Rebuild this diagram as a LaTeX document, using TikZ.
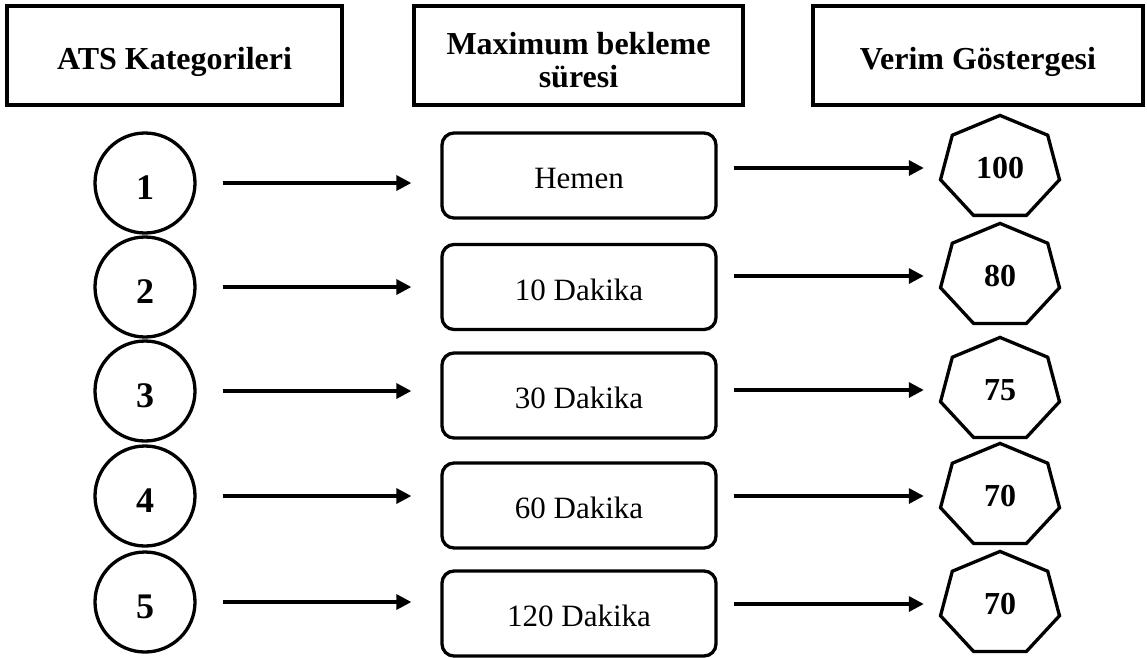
\documentclass[tikz,border=0pt]{standalone}
\usepackage{fontspec}
\setmainfont{Liberation Serif}
\usetikzlibrary{arrows.meta}
\newcommand{\drawhept}[1]{\draw[hept, shift={(#1.center)}, xscale=1.16] (-90:52.6) -- (-141.43:52.6) -- (-192.86:52.6) -- (-244.29:52.6) -- (-295.71:52.6) -- (-347.14:52.6) -- (-38.57:52.6) -- cycle;}
\begin{document}
\begin{tikzpicture}[x=1pt,y=-1pt,
 hdr/.style={draw, line width=3.3pt, minimum height=99pt, font=\fontsize{32}{33}\selectfont\bfseries, align=center, inner sep=0pt},
 onel/.style={text height=27pt, text depth=0pt},
 cat/.style={circle, draw, line width=3.3pt, minimum size=100pt, inner sep=0pt, text height=33pt, text depth=0pt, font=\fontsize{36}{36}\selectfont\bfseries},
 waitbox/.style={draw, rounded corners=12pt, line width=3.3pt, minimum width=274pt, minimum height=85pt, text height=26pt, text depth=0pt, font=\fontsize{31}{31}\selectfont, inner sep=0pt},
 score/.style={minimum width=119pt, minimum height=100pt, inner sep=0pt, font=\fontsize{32}{32}\selectfont\bfseries},
 hept/.style={line width=3.3pt, line join=miter},
 arr/.style={line width=3.3pt, -{Triangle[length=15pt,width=15pt]}}]
\useasboundingbox (0,0) rectangle (1147,657);
% headers
\node[hdr, onel, minimum width=335pt] (hA) at (174.5,55.5) {ATS Kategorileri};
\node[hdr, minimum width=329pt] (hB) at (578.5,55.5) {\rule{0pt}{32pt}Maximum bekleme\\süresi};
\node[hdr, onel, minimum width=330pt] (hC) at (978,55.5) {Verim Göstergesi};
% categories
\node[cat] (c1) at (145,183) {1};
\node[cat] (c2) at (145,287) {2};
\node[cat] (c3) at (145,391) {3};
\node[cat] (c4) at (145,496) {4};
\node[cat] (c5) at (145,602) {5};
% waiting times
\node[waitbox] (b1) at (579,175.5) {Hemen};
\node[waitbox] (b2) at (579,287) {10 Dakika};
\node[waitbox] (b3) at (579,395.5) {30 Dakika};
\node[waitbox] (b4) at (579,505.5) {60 Dakika};
\node[waitbox] (b5) at (579,613.5) {120 Dakika};
% scores
\node[score] (s1) at (1000,168) {100};
\node[score] (s2) at (1000,276) {80};
\node[score] (s3) at (1000,390) {75};
\node[score] (s4) at (1000,496) {70};
\node[score] (s5) at (1000,604) {70};
\drawhept{s1}
\drawhept{s2}
\drawhept{s3}
\drawhept{s4}
\drawhept{s5}
% arrows
\foreach \i in {1,...,5}{
  \draw[arr, shorten <=26pt, shorten >=29pt] (c\i.east) -- (c\i.east -| b\i.west);
  \draw[arr, shorten <=16pt, shorten >=16.5pt] (b\i.east |- s\i) -- (s\i.west);
}
\end{tikzpicture}
\end{document}
